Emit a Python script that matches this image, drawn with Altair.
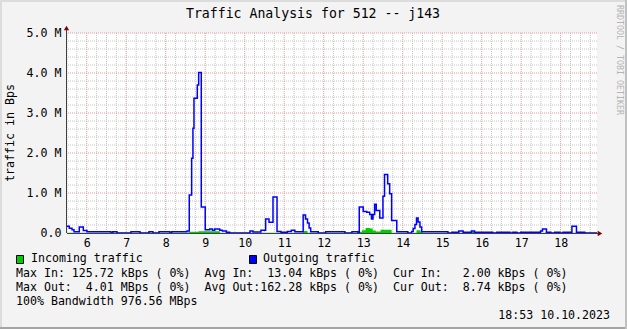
import altair as alt
import pandas as pd

FONT = "DejaVu Sans Mono"
NB = "\u00a0"

TITLE = "Traffic Analysis for 512 -- j143"
Y_TITLE = "traffic in Bps"
WATERMARK = "RRDTOOL / TOBI OETIKER"
legend_names = ["Incoming traffic", "Outgoing traffic"]
legend_colors = ["#00CC00", "#0000FF"]
stats_lines = [
    "Max In: 125.72 kBps ( 0%)  Avg In:  13.04 kBps ( 0%)  Cur In:   2.00 kBps ( 0%)",
    "Max Out:  4.01 MBps ( 0%)  Avg Out:162.28 kBps ( 0%)  Cur Out:  8.74 kBps ( 0%)",
    "100% Bandwidth 976.56 MBps",
]
STAMP = "18:53 10.10.2023"

x_ticks = [6, 7, 8, 9, 10, 11, 12, 13, 14, 15, 16, 17, 18]
y_ticks = [0, 1, 2, 3, 4, 5]

# Outgoing traffic (MBps), step starts in decimal hours
out_hours = [5.5, 5.558, 5.627, 5.677, 5.811, 5.913, 6.006, 6.614, 6.658, 6.766,
             7.12, 7.348, 7.576, 7.677, 7.829, 8.108, 8.152, 8.538, 8.596, 8.656,
             8.689, 8.715, 8.799, 8.834, 8.9, 9.0, 9.114, 9.183, 9.241, 9.367,
             9.435, 9.537, 9.62, 10.133, 10.21, 10.41, 10.53, 10.615, 10.716, 10.818,
             10.919, 11.08, 11.18, 11.27, 11.48, 11.54, 11.59, 11.63, 11.67, 11.862,
             12.05, 12.537, 12.715, 12.867, 12.9, 13.0, 13.09, 13.165, 13.21, 13.248,
             13.29, 13.33, 13.42, 13.5, 13.54, 13.62, 13.67, 13.72, 13.85, 14.13,
             14.226, 14.266, 14.31, 14.35, 14.39, 14.437, 14.48, 15.146, 15.247, 15.42,
             15.53, 15.74, 15.82, 16.28, 16.38, 16.715, 16.79, 16.89, 16.99, 17.49,
             17.54, 17.64, 17.75, 17.85, 17.98, 18.06, 18.285, 18.4, 18.61, 18.92]
out_values = [0.17, 0.12, 0.08, 0.03, 0.15, 0.06, 0.03, 0.0, 0.03, 0.0,
              0.03, 0.0, 0.03, 0.0, 0.03, 0.0, 0.03, 0.05, 0.95, 1.87,
              2.62, 3.37, 3.70, 4.01, 0.65, 0.08, 0.10, 0.07, 0.10, 0.07,
              0.05, 0.02, 0.0, 0.05, 0.025, 0.07, 0.35, 0.27, 0.90, 0.04,
              0.02, 0.04, 0.07, 0.03, 0.45, 0.35, 0.25, 0.125, 0.03, 0.0,
              0.03, 0.0, 0.03, 0.0, 0.65, 0.54, 0.52, 0.46, 0.35, 0.46,
              0.72, 0.56, 0.375, 0.92, 1.46, 1.23, 0.98, 0.31, 0.03, 0.0,
              0.04, 0.11, 0.21, 0.375, 0.275, 0.15, 0.03, 0.0, 0.02, 0.05,
              0.02, 0.05, 0.02, 0.0, 0.02, 0.0, 0.02, 0.0, 0.02, 0.05,
              0.10, 0.02, 0.0, 0.02, 0.0, 0.02, 0.17, 0.02, 0.0, 0.0]

# Incoming traffic (MBps)
in_hours = [5.5, 8.58, 8.83, 9.37, 11.48, 11.59, 12.9, 12.97, 13.06, 13.17,
            13.24, 13.32, 13.44, 13.72, 14.35, 14.45, 14.5, 15.74, 15.82, 18.92]
in_values = [0.008, 0.03, 0.045, 0.008, 0.05, 0.008, 0.03, 0.07, 0.126, 0.11,
             0.06, 0.04, 0.08, 0.008, 0.07, 0.03, 0.008, 0.03, 0.008, 0.008]

W, H = 530, 200
PAD_L, PAD_T = 67, 33

x_scale = alt.Scale(domain=[5.5, 18.92], nice=False, zero=False)
y_scale = alt.Scale(domain=[0, 5], nice=False, zero=True)

AX_X = alt.Axis(values=x_ticks, title=None, domain=False, ticks=False, grid=False,
                labelFont=FONT, labelFontSize=11.6, labelColor="#000000", labelPadding=4,
                format="d", labelFlush=False)
AX_Y = alt.Axis(values=y_ticks, title=None, domain=False, ticks=False, grid=False,
                labelFont=FONT, labelFontSize=11.6, labelColor="#000000", labelPadding=6,
                labelExpr="datum.value == 0 ? '0.0" + NB + NB + "' : format(datum.value, '.1f') + '" + NB + "M'")

minor_x = [5.5 + 0.25 * i for i in range(54) if (5.5 + 0.25 * i) % 1 != 0]
minor_y = [round(0.2 * i, 1) for i in range(1, 25) if i % 5 != 0]
major_y = [1, 2, 3, 4, 5]

GRID = "#c4c4c4"
MGRID = "#e39a9a"

gx_minor = alt.Chart(pd.DataFrame({"h": minor_x})).mark_rule(
    color=GRID, strokeDash=[1, 1], strokeWidth=1
).encode(x=alt.X("h:Q", scale=x_scale, axis=AX_X))
gy_minor = alt.Chart(pd.DataFrame({"v": minor_y})).mark_rule(
    color=GRID, strokeDash=[1, 1], strokeWidth=1
).encode(y=alt.Y("v:Q", scale=y_scale, axis=AX_Y))
gx_major = alt.Chart(pd.DataFrame({"h": x_ticks})).mark_rule(
    color=MGRID, strokeDash=[1, 1], strokeWidth=1
).encode(x=alt.X("h:Q", scale=x_scale, axis=AX_X))
gy_major = alt.Chart(pd.DataFrame({"v": major_y})).mark_rule(
    color=MGRID, strokeDash=[1, 1], strokeWidth=1
).encode(y=alt.Y("v:Q", scale=y_scale, axis=AX_Y))

in_area = alt.Chart(pd.DataFrame({"h": in_hours, "v": in_values})).mark_area(
    interpolate="step-after", color=legend_colors[0], opacity=1
).encode(
    x=alt.X("h:Q", scale=x_scale, axis=AX_X),
    y=alt.Y("v:Q", scale=y_scale, axis=AX_Y),
)

out_line = alt.Chart(pd.DataFrame({"h": out_hours, "v": out_values})).mark_line(
    interpolate="step-after", color=legend_colors[1], strokeWidth=1.5
).encode(
    x=alt.X("h:Q", scale=x_scale, axis=AX_X),
    y=alt.Y("v:Q", scale=y_scale, axis=AX_Y),
)

one = pd.DataFrame({"k": [0]})

axis_x = alt.Chart(one).mark_rule(color="#404040", strokeWidth=1).encode(
    x=alt.value(0), x2=alt.value(W + 3), y=alt.value(H + 0.5))
axis_y = alt.Chart(one).mark_rule(color="#404040", strokeWidth=1).encode(
    x=alt.value(-0.5), y=alt.value(H), y2=alt.value(-4))
arrow_x = alt.Chart(one).mark_point(shape="triangle-right", filled=True, color="#800000",
                                   size=28, opacity=1).encode(
    x=alt.value(W + 3), y=alt.value(H + 0.5))
arrow_y = alt.Chart(one).mark_point(shape="triangle-up", filled=True, color="#800000",
                                   size=28, opacity=1).encode(
    x=alt.value(-0.5), y=alt.value(-5))


def text_layer(txt, x, y, size, align="left", angle=0, color="#000000", baseline="middle"):
    return alt.Chart(pd.DataFrame({"t": [txt.replace(" ", NB)]})).mark_text(
        font=FONT, fontSize=size, align=align, baseline=baseline, angle=angle, color=color
    ).encode(text="t:N", x=alt.value(x), y=alt.value(y))


title = text_layer(TITLE, 313 - PAD_L, 14 - PAD_T, 13.2, align="center")
ytitle = text_layer(Y_TITLE, 11 - PAD_L, 133 - PAD_T, 11.6, align="center", angle=270)
wmark = text_layer(WATERMARK, 618.5 - PAD_L, 5 - PAD_T, 8.3, align="left", angle=90, color="#b4b4b4")

leg_sq = []
for x0, col in [(16, legend_colors[0]), (249, legend_colors[1])]:
    leg_sq.append(alt.Chart(one).mark_rect(color=col, stroke="#000000", strokeWidth=1).encode(
        x=alt.value(x0 - PAD_L + 0.5), x2=alt.value(x0 + 7 - PAD_L + 0.5),
        y=alt.value(255 - PAD_T + 0.5), y2=alt.value(263 - PAD_T + 0.5)))
leg_txt = [
    text_layer(legend_names[0], 31 - PAD_L, 259 - PAD_T, 11.6),
    text_layer(legend_names[1], 263 - PAD_L, 259 - PAD_T, 11.6),
]
stat_txt = [
    text_layer(stats_lines[0], 16 - PAD_L, 274 - PAD_T, 11.6),
    text_layer(stats_lines[1], 16 - PAD_L, 288 - PAD_T, 11.6),
    text_layer(stats_lines[2], 16 - PAD_L, 302 - PAD_T, 11.6),
    text_layer(STAMP, 610 - PAD_L, 316 - PAD_T, 11.6, align="right"),
]

# frame (3D shade)
frame = [
    alt.Chart(one).mark_rule(color="#dcdcdc", strokeWidth=2).encode(
        x=alt.value(-PAD_L), x2=alt.value(627 - PAD_L), y=alt.value(1 - PAD_T)),
    alt.Chart(one).mark_rule(color="#dcdcdc", strokeWidth=2).encode(
        x=alt.value(1 - PAD_L), y=alt.value(-PAD_T), y2=alt.value(329 - PAD_T)),
    alt.Chart(one).mark_rule(color="#a4a4a4", strokeWidth=2).encode(
        x=alt.value(-PAD_L), x2=alt.value(627 - PAD_L), y=alt.value(328 - PAD_T)),
    alt.Chart(one).mark_rule(color="#c0c0c0", strokeWidth=2).encode(
        x=alt.value(626 - PAD_L), y=alt.value(-PAD_T), y2=alt.value(329 - PAD_T)),
]

chart = alt.layer(
    gx_minor, gy_minor, gx_major, gy_major, in_area, out_line,
    axis_x, axis_y, arrow_x, arrow_y,
    title, ytitle, wmark, *leg_sq, *leg_txt, *stat_txt, *frame,
).properties(
    width=W, height=H,
    autosize=alt.AutoSizeParams(type="none"),
    padding={"left": PAD_L, "top": PAD_T, "right": 627 - PAD_L - W, "bottom": 329 - PAD_T - H},
    background="#f3f3f3",
).configure_view(stroke=None, fill="#ffffff")

chart.save("out.html", embed_options={"renderer": "svg", "actions": False})
